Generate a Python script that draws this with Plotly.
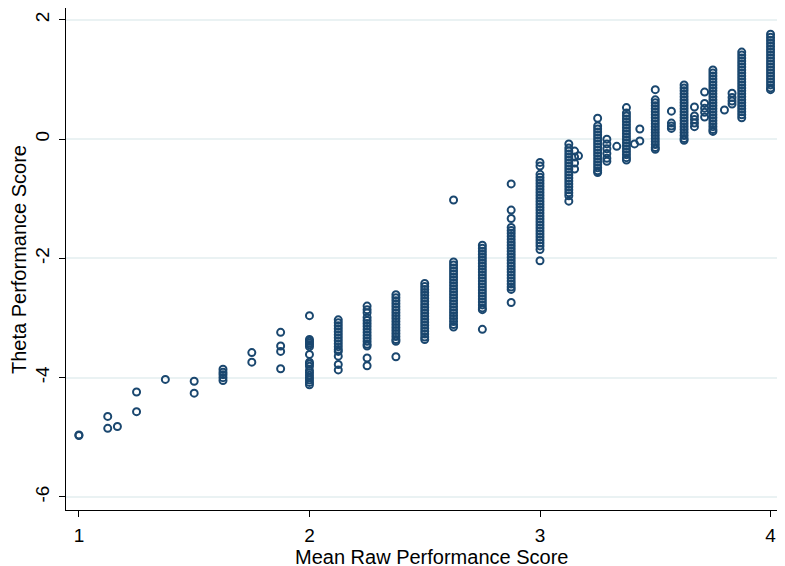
import plotly.graph_objects as go

# Column x positions (mean raw score) and the theta values read at each
column_x = [1.0, 1.125, 1.167, 1.25, 1.375, 1.5, 1.625, 1.75, 1.875,
            2.0, 2.125, 2.25, 2.375, 2.5, 2.625, 2.75, 2.875,
            3.0, 3.125, 3.15, 3.167, 3.25, 3.29, 3.333, 3.375, 3.41, 3.433,
            3.5, 3.57, 3.625, 3.67, 3.714, 3.75, 3.8, 3.833, 3.875, 4.0]

y_100 = [-4.96, -4.97]
y_1125 = [-4.65, -4.85]
y_1167 = [-4.82]
y_125 = [-4.24, -4.57]
y_1375 = [-4.03]
y_15 = [-4.06, -4.26]
y_1625 = [-3.86, -3.91, -3.95, -4.0, -4.05]
y_175 = [-3.58, -3.74]
y_1875 = [-3.24, -3.47, -3.56, -3.85]
y_200 = [-2.96, -3.36, -3.39, -3.42, -3.45, -3.48, -3.61, -3.74, -3.77, -3.81,
         -3.88, -3.92, -3.96, -4.0, -4.04, -4.08, -4.12]
y_2125 = [-3.03, -3.08, -3.13, -3.18, -3.23, -3.28, -3.33, -3.38, -3.43, -3.48,
          -3.53, -3.56, -3.64, -3.78, -3.87]
y_225 = [-2.80, -2.86, -2.91, -2.99, -3.04, -3.09, -3.14, -3.19, -3.24, -3.29,
         -3.34, -3.39, -3.44, -3.47, -3.67, -3.80]
y_2375 = [-2.61, -2.66, -2.71, -2.76, -2.81, -2.86, -2.91, -2.96, -3.01, -3.06,
          -3.11, -3.16, -3.21, -3.26, -3.31, -3.36, -3.39, -3.65]
y_25 = [-2.42, -2.47, -2.52, -2.57, -2.62, -2.67, -2.72, -2.77, -2.82, -2.87,
        -2.92, -2.97, -3.02, -3.07, -3.12, -3.17, -3.22, -3.27, -3.32, -3.36]
y_2625 = [-1.02, -2.06, -2.11, -2.16, -2.21, -2.26, -2.31, -2.36, -2.41, -2.46,
          -2.51, -2.56, -2.61, -2.66, -2.71, -2.76, -2.81, -2.86, -2.91, -2.96,
          -3.01, -3.06, -3.11, -3.15]
y_275 = [-1.78, -1.83, -1.88, -1.93, -1.98, -2.03, -2.08, -2.13, -2.18, -2.23,
         -2.28, -2.33, -2.38, -2.43, -2.48, -2.53, -2.58, -2.63, -2.68, -2.73,
         -2.78, -2.83, -2.86, -3.19]
y_2875 = [-0.75, -1.19, -1.33, -1.48, -1.53, -1.58, -1.63, -1.68, -1.73, -1.78,
          -1.83, -1.88, -1.93, -1.98, -2.03, -2.08, -2.13, -2.18, -2.23, -2.28,
          -2.33, -2.38, -2.43, -2.48, -2.52, -2.74]
y_300 = [-0.39, -0.45, -0.59, -0.64, -0.69, -0.74, -0.79, -0.84, -0.89, -0.94,
         -0.99, -1.04, -1.09, -1.14, -1.19, -1.24, -1.29, -1.34, -1.39, -1.44,
         -1.49, -1.54, -1.59, -1.64, -1.69, -1.74, -1.79, -1.85, -2.04]
y_3125 = [-0.08, -0.15, -0.20, -0.25, -0.30, -0.35, -0.40, -0.45, -0.50, -0.55,
          -0.60, -0.65, -0.70, -0.75, -0.80, -0.85, -0.90, -0.95, -1.04]
y_315 = [-0.20, -0.30, -0.40, -0.50]
y_3167 = [-0.28]
y_325 = [0.35, 0.22, 0.17, 0.12, 0.07, 0.02, -0.03, -0.08, -0.13, -0.18,
         -0.23, -0.28, -0.33, -0.38, -0.43, -0.48, -0.53, -0.56]
y_329 = [0.0, -0.08, -0.16, -0.24, -0.32, -0.37]
y_3333 = [-0.12]
y_3375 = [0.53, 0.44, 0.39, 0.34, 0.29, 0.24, 0.19, 0.14, 0.09, 0.04,
          -0.01, -0.06, -0.11, -0.16, -0.21, -0.26, -0.31, -0.35]
y_341 = [-0.08]
y_3433 = [0.17, -0.03]
y_350 = [0.83, 0.66, 0.61, 0.56, 0.51, 0.46, 0.41, 0.36, 0.31, 0.26,
         0.21, 0.16, 0.11, 0.06, 0.01, -0.04, -0.09, -0.14, -0.17]
y_357 = [0.47, 0.27, 0.22, 0.18]
y_3625 = [0.91, 0.86, 0.81, 0.76, 0.71, 0.66, 0.61, 0.56, 0.51, 0.46,
          0.41, 0.36, 0.31, 0.26, 0.21, 0.16, 0.11, 0.06, 0.01, -0.02]
y_367 = [0.54, 0.39, 0.33, 0.27, 0.21]
y_3714 = [0.79, 0.60, 0.52, 0.45, 0.37]
y_375 = [1.16, 1.11, 1.06, 1.01, 0.96, 0.91, 0.86, 0.81, 0.76, 0.71, 0.66,
         0.61, 0.56, 0.51, 0.46, 0.41, 0.36, 0.31, 0.26, 0.21, 0.16, 0.13]
y_380 = [0.49]
y_3833 = [0.77, 0.70, 0.64, 0.59]
y_3875 = [1.46, 1.41, 1.36, 1.31, 1.26, 1.21, 1.16, 1.11, 1.06, 1.01, 0.96,
          0.91, 0.86, 0.81, 0.76, 0.71, 0.66, 0.61, 0.56, 0.51, 0.46, 0.41, 0.36]
y_400 = [1.76, 1.71, 1.66, 1.61, 1.56, 1.51, 1.46, 1.41, 1.36, 1.31, 1.26,
         1.21, 1.16, 1.11, 1.06, 1.01, 0.96, 0.91, 0.86, 0.83]

column_y = [y_100, y_1125, y_1167, y_125, y_1375, y_15, y_1625, y_175, y_1875,
            y_200, y_2125, y_225, y_2375, y_25, y_2625, y_275, y_2875,
            y_300, y_3125, y_315, y_3167, y_325, y_329, y_3333, y_3375, y_341, y_3433,
            y_350, y_357, y_3625, y_367, y_3714, y_375, y_380, y_3833, y_3875, y_400]

x_ticks = [1, 2, 3, 4]
y_ticks = [-6, -4, -2, 0, 2]
y_tick_labels = ["-6", "-4", "-2", "0", "2"]
x_title = "Mean Raw Performance Score"
y_title = "Theta Performance Score"

xs, ys = [], []
for cx, cys in zip(column_x, column_y):
    for v in cys:
        xs.append(cx)
        ys.append(v)

NAVY = "#1a476f"
FONT = "Arial, Liberation Sans, sans-serif"

fig = go.Figure(go.Scatter(
    x=xs, y=ys, mode="markers",
    marker=dict(symbol="circle-open", size=7, color=NAVY,
                line=dict(width=2, color=NAVY)),
    showlegend=False,
))

# the page body adds an 8px offset; size the figure to the visible area
fig.update_layout(
    width=769, height=558,
    margin=dict(l=58, r=0, t=0, b=56),
    paper_bgcolor="white", plot_bgcolor="white",
    font=dict(family=FONT, size=19, color="black"),
    annotations=[
        dict(text=x_title, xref="paper", yref="paper", x=0.5134, y=-0.0935,
             xanchor="center", yanchor="middle", showarrow=False,
             font=dict(size=20)),
        dict(text=y_title, xref="paper", yref="paper", x=-0.0661, y=0.498,
             xanchor="center", yanchor="middle", showarrow=False, textangle=-90,
             font=dict(size=20)),
    ],
)
fig.update_xaxes(
    range=[0.944, 4.028], tickvals=x_ticks, showgrid=False, zeroline=False,
    showline=True, linecolor="black", linewidth=1.2, automargin=False,
    ticks="outside", ticklen=6, tickcolor="black", tickwidth=1,
    tickfont=dict(size=19), ticklabelstandoff=2,
)
fig.update_yaxes(
    range=[-6.22, 2.2], tickvals=y_ticks, ticktext=y_tick_labels,
    showgrid=True, gridcolor="#eaf2f3",
    gridwidth=1.5, zeroline=False, automargin=False,
    showline=True, linecolor="black", linewidth=1.2,
    ticks="outside", ticklen=6, tickcolor="black", tickwidth=1,
    tickangle=-90, tickfont=dict(size=19), ticklabelstandoff=2,
)

fig.write_html("out.html")
